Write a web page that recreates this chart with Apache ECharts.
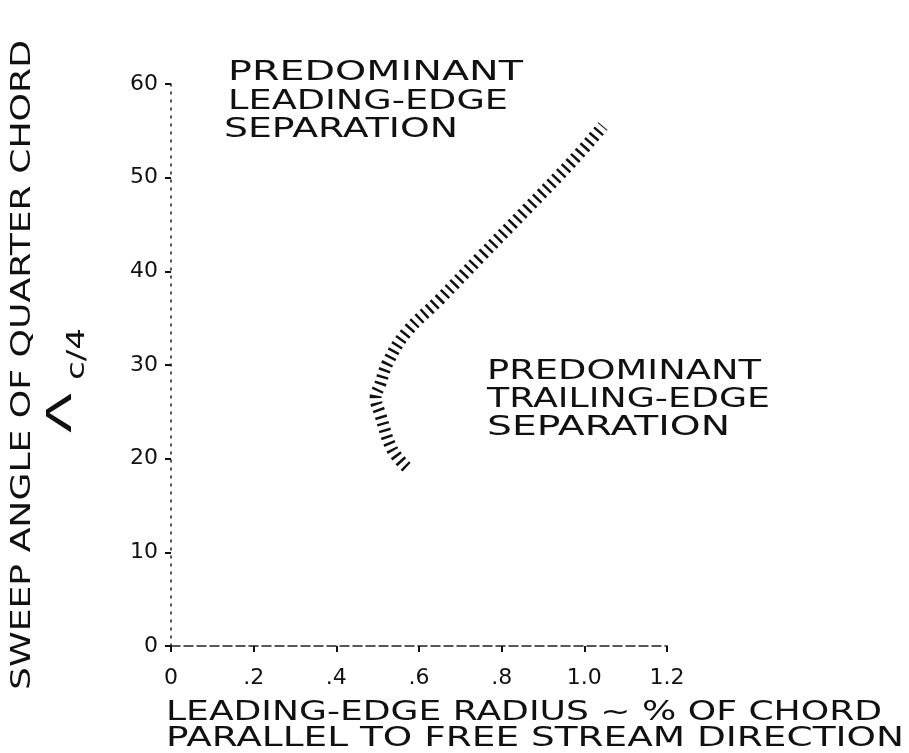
<!DOCTYPE html>
<html>
<head>
<meta charset="utf-8">
<script src="https://cdn.jsdelivr.net/npm/echarts@6/dist/echarts.min.js"></script>
<style>
  html, body { margin: 0; padding: 0; background: #fff; }
  #chart { width: 909px; height: 753px; }
</style>
</head>
<body>
<div id="chart"></div>
<script>
// Separation boundary, listed from its lower end up to its upper end.
// Leading-edge radius, percent of chord
const boundaryRadius = [0.57, 0.535, 0.505, 0.495, 0.505, 0.525, 0.57, 0.65, 0.75, 0.86, 0.97, 1.045];
// Sweep angle of the quarter-chord line, degrees
const boundarySweep = [19.1, 21.0, 24.9, 26.5, 27.8, 30.3, 33.5, 37.0, 41.6, 46.6, 51.7, 55.5];

// Axis tick labels
const xTickValues = [0, 0.2, 0.4, 0.6, 0.8, 1.0, 1.2];
const xTickLabels = ['0', '.2', '.4', '.6', '.8', '1.0', '1.2'];
const yTickValues = [0, 10, 20, 30, 40, 50, 60];
const yTickLabels = ['0', '10', '20', '30', '40', '50', '60'];

// Titles and region notes
const yAxisTitle = 'SWEEP ANGLE OF QUARTER CHORD';
const sweepSymbol = 'Λ';
const sweepSubscript = 'c/4';
const xAxisTitle = ['LEADING-EDGE RADIUS ~ % OF CHORD', 'PARALLEL TO FREE STREAM DIRECTION'];
const leadingNote = ['PREDOMINANT', 'LEADING-EDGE', 'SEPARATION'];
const trailingNote = ['PREDOMINANT', 'TRAILING-EDGE', 'SEPARATION'];

const FONT = '"DejaVu Sans", "Liberation Sans", sans-serif';
const INK = '#111';

// Measure a string so lettering can be stretched to a set width
const measureCtx = document.createElement('canvas').getContext('2d');
function textWidth(str, size) {
  measureCtx.font = size + 'px ' + FONT;
  return measureCtx.measureText(str).width;
}

// A line of lettering whose left edge is at (x, y) and which spans `width` px
function letteredLine(str, x, y, width, size) {
  return {
    type: 'text',
    x: x, y: y,
    scaleX: width / textWidth(str, size),
    style: {
      text: str, fontSize: size, fontFamily: FONT, fill: INK,
      align: 'left', verticalAlign: 'middle'
    },
    silent: true
  };
}

// Vertical lettering reading bottom to top, centred on (x, y)
function verticalLine(str, x, y, length, size) {
  return {
    type: 'text',
    x: x, y: y,
    rotation: Math.PI / 2,
    scaleX: length / textWidth(str, size),
    style: {
      text: str, fontSize: size, fontFamily: FONT, fill: INK,
      align: 'center', verticalAlign: 'middle'
    },
    silent: true
  };
}

const chart = echarts.init(document.getElementById('chart'), null, { renderer: 'canvas' });

const noteSize = 26;
const graphics = [
  verticalLine(yAxisTitle, 23, 365, 650, 27),
  verticalLine(sweepSymbol, 62, 413, 40, 34),
  verticalLine(sweepSubscript, 78, 354, 52, 24),
  letteredLine(xAxisTitle[0], 166, 713, 716, 27),
  letteredLine(xAxisTitle[1], 166, 739, 738, 27),
  letteredLine(leadingNote[0], 228, 73, 295, noteSize),
  letteredLine(leadingNote[1], 228, 102, 280, noteSize),
  letteredLine(leadingNote[2], 224, 130, 234, noteSize),
  letteredLine(trailingNote[0], 487, 372, 274, noteSize),
  letteredLine(trailingNote[1], 487, 400, 283, noteSize),
  letteredLine(trailingNote[2], 487, 428, 243, noteSize)
];

const tickLabelStyle = { fontSize: 22, fontFamily: FONT, color: INK };

const option = {
  animation: false,
  backgroundColor: '#fff',
  grid: { left: 171, right: 242, top: 84, bottom: 107, outerBoundsMode: 'none' },
  xAxis: {
    type: 'value',
    min: 0, max: 1.2, interval: 0.2,
    axisLine: { show: true, lineStyle: { color: '#222', width: 1.5, type: [9, 4] } },
    axisTick: { show: true, length: 6, lineStyle: { color: '#111', width: 2 } },
    splitLine: { show: false },
    axisLabel: Object.assign({
      margin: 21,
      formatter: function (v) {
        const i = xTickValues.findIndex(t => Math.abs(t - v) < 1e-6);
        return i >= 0 ? xTickLabels[i] : '';
      }
    }, tickLabelStyle)
  },
  yAxis: {
    type: 'value',
    min: 0, max: 60, interval: 10,
    axisLine: { show: true, lineStyle: { color: '#222', width: 1.5, type: [2, 6] } },
    axisTick: { show: true, length: 6, lineStyle: { color: '#111', width: 2 } },
    splitLine: { show: false },
    axisLabel: Object.assign({
      margin: 13,
      formatter: function (v) {
        const i = yTickValues.findIndex(t => Math.abs(t - v) < 1e-6);
        return i >= 0 ? yTickLabels[i] : '';
      }
    }, tickLabelStyle)
  },
  series: [{
    // The boundary is drawn as a hatched band: a wide line broken into short dashes
    type: 'line',
    data: boundaryRadius.map((r, i) => [r, boundarySweep[i]]),
    smooth: 0.4,
    showSymbol: false,
    clip: false,
    lineStyle: { color: INK, width: 12, type: [2.5, 4.5], cap: 'butt' },
    emphasis: { disabled: true }
  }],
  graphic: graphics
};

chart.setOption(option);
</script>
</body>
</html>
